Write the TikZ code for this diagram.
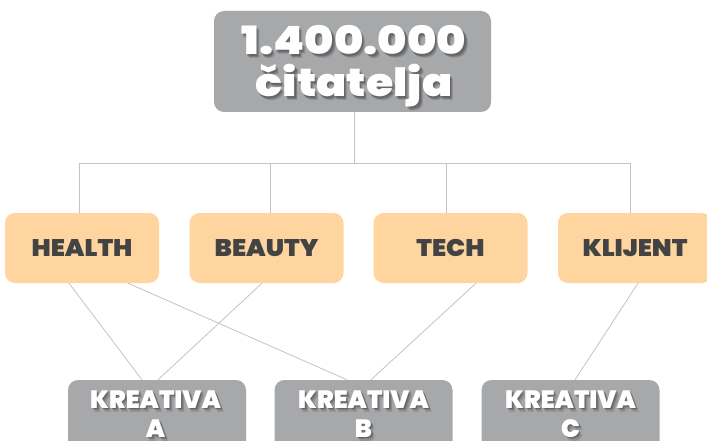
\documentclass[tikz,border=0pt]{standalone}
\usepackage{fontspec}
\setmainfont{Poppins Black}
\newfontfamily\widefont{Poppins Black}[FakeStretch=1.14]
\newfontfamily\catfont{Poppins Black}[FakeStretch=1.06]
\definecolor{boxgray}{HTML}{A7A8AA}
\definecolor{peach}{HTML}{FED59F}
\definecolor{darktext}{HTML}{434343}
\definecolor{linegray}{HTML}{C4C4C4}
\tikzset{
  link/.style={draw=linegray, line width=0.8pt},
  graybox/.style={fill=boxgray, rounded corners=10pt, inner sep=0pt},
  peachbox/.style={fill=peach, rounded corners=10pt, inner sep=0pt,
    minimum width=154pt, minimum height=70pt, text=darktext,
    font=\catfont\fontsize{24}{28}\selectfont},
  kbox/.style={graybox, minimum width=178pt, minimum height=80pt},
  bigtxt/.style={inner sep=0pt, anchor=base, text=white, font=\widefont\fontsize{39}{42}\selectfont},
  ktxt/.style={inner sep=0pt, anchor=base, text=white, font=\fontsize{25}{29}\selectfont},
}
\newcommand\shadowtext[4]{% style, name, position, text
  \node[#1, text=black, text opacity=0.16] at ([shift={(1.2pt,-1.6pt)}]#3) {#4};
  \node[#1, text=black, text opacity=0.16] at ([shift={(2.2pt,-2.8pt)}]#3) {#4};
  \node[#1, text=black, text opacity=0.12] at ([shift={(3.2pt,-4pt)}]#3) {#4};
  \node[#1] (#2) at (#3) {#4};
}
\begin{document}
\begin{tikzpicture}[x=1pt,y=-1pt]
\clip (0,0) rectangle (707,441);
\fill[white] (0,0) rectangle (707,441);
% top box
\node[graybox, minimum width=277pt, minimum height=101pt] (top) at (352.5,61.5) {};
\shadowtext{bigtxt}{t1}{354,55}{1.400.000}
\shadowtext{bigtxt}{t2}{354,97}{čitatelja}
% categories
\node[peachbox] (health) at (82,248) {HEALTH};
\node[peachbox] (beauty) at (266.5,248) {BEAUTY};
\node[peachbox] (tech) at (450.5,248) {TECH};
\node[peachbox] (klijent) at (635,248) {KLIJENT};
% creative boxes
\node[kbox] (kA) at (157,420) {};
\node[kbox] (kB) at (363.5,420) {};
\node[kbox] (kC) at (570.5,420) {};
\shadowtext{ktxt}{kA1}{155.5,408}{KREATIVA}
\shadowtext{ktxt}{kA2}{155.5,437}{A}
\shadowtext{ktxt}{kB1}{363.5,408}{KREATIVA}
\shadowtext{ktxt}{kB2}{363.5,437}{B}
\shadowtext{ktxt}{kC1}{570.5,408}{KREATIVA}
\shadowtext{ktxt}{kC2}{570.5,437}{C}
% tree connectors
\coordinate (j) at (354,163);
\draw[link] (top.south -| j) -- (j);
\draw[link] ([xshift=-3pt]health.north) |- (j);
\draw[link] ([xshift=3.5pt]beauty.north) |- (j);
\draw[link] ([xshift=-4.5pt]tech.north) |- (j);
\draw[link] ([xshift=-5pt]klijent.north) |- (j);
% cross connectors
\draw[link] ([xshift=-13pt]health.south) -- ([xshift=-15pt]kA.north);
\draw[link] ([xshift=46pt]health.south) -- ([xshift=-16.5pt]kB.north);
\draw[link] ([xshift=-4.5pt]beauty.south) -- ([xshift=1pt]kA.north);
\draw[link] ([xshift=25.5pt]tech.south) -- ([xshift=7.5pt]kB.north);
\draw[link] ([xshift=3pt]klijent.south) -- ([xshift=4.5pt]kC.north);
\end{tikzpicture}
\end{document}
